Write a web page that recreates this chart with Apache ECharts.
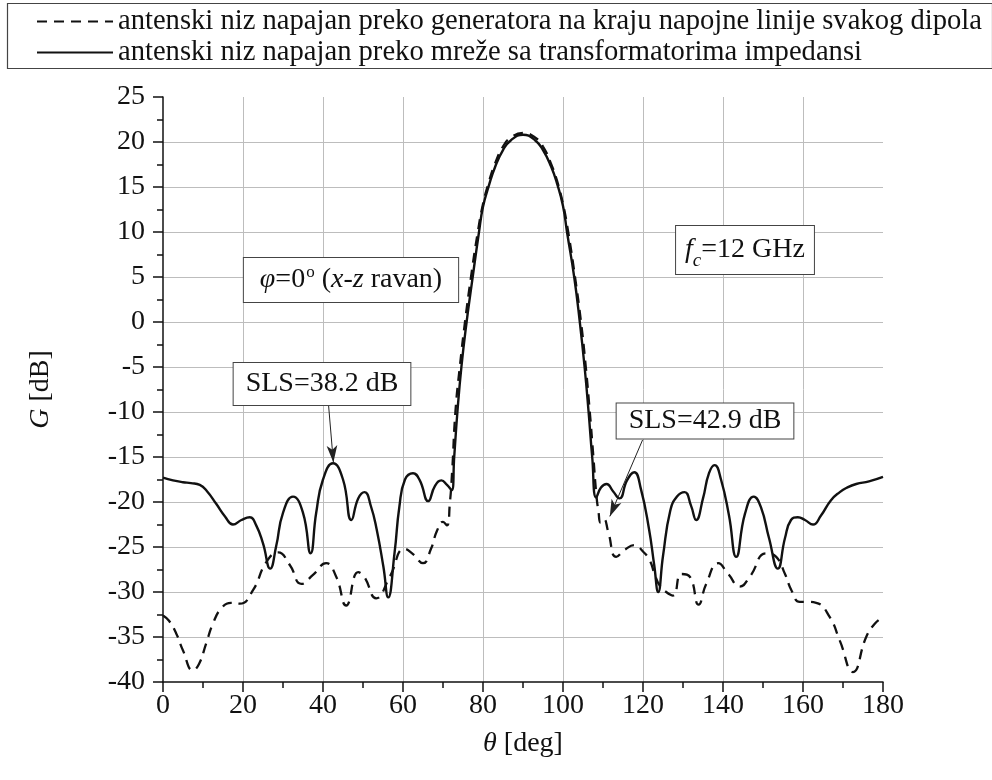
<!DOCTYPE html>
<html>
<head>
<meta charset="utf-8">
<script src="https://cdn.jsdelivr.net/npm/echarts@6/dist/echarts.min.js"></script>
<style>
html,body{margin:0;padding:0;background:#fff;}
#chart{width:992px;height:780px;}
</style>
</head>
<body>
<div id="chart"></div>
<script>
// ---- data ----
const seriesNames = [
  'antenski niz napajan preko generatora na kraju napojne linije svakog dipola',
  'antenski niz napajan preko mreže sa transformatorima impedansi'
];
const xTicks = [0, 20, 40, 60, 80, 100, 120, 140, 160, 180];
const yTicks = [-40, -35, -30, -25, -20, -15, -10, -5, 0, 5, 10, 15, 20, 25];

const thetaDashed = [0, 1.5, 3.3, 5, 7.5, 9, 10.8, 12.5, 14.6, 17, 19.2, 22.5, 25.8, 28.8, 31.7, 34.6, 37.5, 40.8, 43.3, 45.8, 48.8, 50.3, 53.3, 56.7, 60.4, 62.5, 65, 67, 68.5, 70, 71, 71.7, 72.3, 73.1, 74.2, 75.5, 77, 78.7, 80, 81.5, 83, 85, 87, 90, 93, 95, 97, 98.5, 100, 101.3, 103, 104.5, 105.7, 106.7, 107.6, 108.3, 108.9, 109.4, 110.2, 111.3, 113.3, 115.5, 117.9, 120, 121.7, 122.9, 124.2, 125.8, 127.5, 129.6, 131.7, 133.9, 135.8, 138.8, 141.3, 144.2, 146.7, 150.8, 153.3, 155.5, 157.1, 159.2, 161, 163.3, 166.7, 169.2, 172.5, 175.8, 178, 180];
const gainDashed = [-32.6, -33.2, -34.6, -36.5, -38.7, -38.0, -35.7, -33.5, -31.8, -31.2, -31.3, -29.8, -26.7, -25.6, -27.0, -29.1, -28.1, -26.8, -28.3, -31.5, -27.8, -28.3, -30.7, -28.3, -25.2, -25.8, -26.8, -25.2, -23.2, -22.2, -22.6, -20.2, -16.5, -10, -5, 0, 5, 10, 13.1, 15.6, 17.6, 19.5, 20.5, 21.0, 20.5, 19.5, 17.6, 15.7, 13.1, 10, 5, 0, -5, -10, -15, -19, -21.2, -22.3, -21.9, -23.3, -26.1, -25.3, -24.8, -25.5, -26.5, -28.0, -29.3, -30.0, -30.4, -28.0, -28.3, -31.4, -29.1, -26.8, -28.0, -29.4, -28.3, -25.7, -26.1, -28.0, -29.8, -31.1, -31.1, -31.2, -32.8, -35.4, -38.9, -35.0, -33.5, -32.8];

const thetaSolid = [0, 2.5, 5, 7, 9.2, 11, 13.3, 15.5, 17.5, 19.6, 21.7, 23.3, 25, 26.8, 28.3, 30, 32.5, 35, 36.9, 38.3, 40, 42.5, 45, 47.1, 48.8, 50.4, 52, 53.4, 55.1, 56.3, 57.9, 59.1, 60.5, 62.5, 64.2, 66.3, 68, 69.6, 71, 72.2, 72.8, 73.6, 74.6, 75.9, 77.3, 79, 80, 81.5, 83, 85, 87, 90, 93, 95, 97, 98.5, 100, 101, 102.8, 104.2, 105.4, 106.4, 107.3, 108.3, 109.5, 110.9, 112.5, 114.1, 116, 117.8, 119.5, 121.5, 122.8, 123.8, 125, 126.8, 128.5, 130.4, 132, 133.3, 135, 136.5, 137.9, 139.5, 141.5, 143.3, 145.5, 147.7, 149.5, 151.5, 153.7, 155.5, 157, 158.7, 160.5, 162.5, 164.5, 167, 169.2, 171, 173.3, 176.5, 180];
const gainSolid = [-17.3, -17.6, -17.8, -17.9, -18.1, -18.8, -20.2, -21.6, -22.5, -22.0, -21.7, -22.6, -24.6, -27.4, -24.9, -21.2, -19.4, -21.2, -25.7, -21.2, -17.5, -15.7, -17.5, -22.0, -19.6, -18.9, -20.5, -23.0, -27.2, -30.6, -25.6, -20.5, -17.5, -16.8, -17.6, -19.9, -18.2, -17.6, -18.1, -18.7, -15.0, -10.0, -5.0, 0, 4.6, 10, 12.8, 15.2, 17.2, 19.1, 20.2, 20.8, 20.2, 19.1, 17.3, 15.4, 12.9, 10.0, 5.0, 0, -5.0, -10.0, -15.0, -19.5, -18.4, -18.0, -18.8, -19.6, -17.6, -16.7, -18.6, -23.0, -27.0, -30.0, -26.0, -21.0, -19.4, -18.9, -20.4, -22.0, -19.6, -16.8, -15.9, -17.5, -21.5, -26.1, -21.3, -19.4, -20.6, -24.0, -27.4, -24.0, -22.0, -21.7, -22.0, -22.5, -21.5, -19.8, -18.9, -18.4, -18.0, -17.7, -17.2];

// annotation arrows: [start, tip] in data coordinates
const arrowLeft = [[41.4, -9.3], [42.6, -15.6]];
const arrowRight = [[119.9, -13.1], [111.7, -21.6]];

// ---- chart ----
const FONT = '"Liberation Serif", "Times New Roman", serif';
const zip = (a, b) => a.map((v, i) => [v, b[i]]);

const chart = echarts.init(document.getElementById('chart'), null, {renderer: 'canvas'});

const boxText = {
  fontFamily: FONT, fontSize: 28, fill: '#111',
  backgroundColor: '#fff', borderColor: '#444', borderWidth: 1,
  align: 'center', verticalAlign: 'middle'
};

const arrowEnd = (c) => ({coord: c, symbol: 'arrow', symbolSize: [8, 17]});
const arrowStart = (c) => ({coord: c, symbol: 'none'});

const option = {
  backgroundColor: '#fff',
  animation: false,
  grid: {left: 163, right: 109, top: 97, bottom: 98, containLabel: false},
  legend: {
    orient: 'vertical', left: 36, top: 7, padding: 0, itemGap: 2,
    itemWidth: 76, itemHeight: 14,
    itemStyle: {opacity: 0, borderWidth: 0},
    textStyle: {fontFamily: FONT, fontSize: 28.6, color: '#111', lineHeight: 28},
    data: seriesNames
  },
  xAxis: {
    type: 'value', min: 0, max: 180, interval: 20,
    name: '{i|θ} [deg]', nameLocation: 'middle', nameGap: 48,
    nameTextStyle: {fontFamily: FONT, fontSize: 28, color: '#111',
      rich: {i: {fontFamily: FONT, fontSize: 28, fontStyle: 'italic', color: '#111'}}},
    axisLine: {onZero: false, lineStyle: {color: '#111', width: 1.5}},
    axisTick: {show: true, inside: false, length: 10, lineStyle: {color: '#111', width: 1.5}},
    minorTick: {show: true, splitNumber: 2, length: 6, lineStyle: {color: '#111', width: 1.5}},
    axisLabel: {fontFamily: FONT, fontSize: 28, color: '#111', margin: 10,
      formatter: v => xTicks.includes(v) ? String(v) : ''},
    splitLine: {show: true, showMinLine: false, showMaxLine: false, lineStyle: {color: '#bdbdbd', width: 1}}
  },
  yAxis: {
    type: 'value', min: -40, max: 25, interval: 5,
    name: '{i|G} [dB]', nameLocation: 'middle', nameGap: 108, nameRotate: 90,
    nameTextStyle: {fontFamily: FONT, fontSize: 28, color: '#111',
      rich: {i: {fontFamily: FONT, fontSize: 28, fontStyle: 'italic', color: '#111'}}},
    axisLine: {show: true, onZero: false, lineStyle: {color: '#111', width: 1.5}},
    axisTick: {show: true, inside: false, length: 10, lineStyle: {color: '#111', width: 1.5}},
    minorTick: {show: true, splitNumber: 2, length: 6, lineStyle: {color: '#111', width: 1.5}},
    axisLabel: {fontFamily: FONT, fontSize: 28, color: '#111', margin: 18,
      formatter: v => yTicks.includes(v) ? String(v) : ''},
    splitLine: {show: true, showMinLine: false, showMaxLine: false, lineStyle: {color: '#bdbdbd', width: 1}}
  },
  series: [
    {
      name: seriesNames[0], type: 'line', data: zip(thetaDashed, gainDashed),
      symbol: 'none', smooth: 0.5,
      lineStyle: {color: '#111', width: 2.3, type: [10, 7]},
      itemStyle: {color: '#111'}, z: 2
    },
    {
      name: seriesNames[1], type: 'line', data: zip(thetaSolid, gainSolid),
      symbol: 'none', smooth: 0.5,
      lineStyle: {color: '#111', width: 2.4, type: 'solid'},
      itemStyle: {color: '#111'}, z: 3,
      markLine: {
        silent: true, animation: false,
        label: {show: false},
        lineStyle: {color: '#222', width: 1, type: 'solid'},
        itemStyle: {color: '#222'},
        data: [
          [arrowStart(arrowLeft[0]), arrowEnd(arrowLeft[1])],
          [arrowStart(arrowRight[0]), arrowEnd(arrowRight[1])]
        ]
      }
    }
  ],
  graphic: [
    {type: 'rect', left: 5, top: 1, shape: {width: 985, height: 65},
     style: {fill: 'none', stroke: '#444', lineWidth: 1.2}, z: -1, silent: true},
    {type: 'text', x: 351, y: 280, z: 10,
     style: Object.assign({}, boxText, {
       text: '{i|φ}{n|=0}{s|o}{n| (}{i|x}{n|-}{i|z}{n| ravan)}',
       padding: [6, 16, 6, 16],
       rich: {
         i: {fontFamily: FONT, fontSize: 28, fontStyle: 'italic', lineHeight: 32},
         n: {fontFamily: FONT, fontSize: 28, lineHeight: 32},
         s: {fontFamily: FONT, fontSize: 17, lineHeight: 32, verticalAlign: 'top', padding: [0, 0, 10, 1]}
       }
     })},
    {type: 'text', x: 322, y: 384, z: 10,
     style: Object.assign({}, boxText, {text: 'SLS=38.2 dB', padding: [5, 12, 5, 12], lineHeight: 32})},
    {type: 'text', x: 705, y: 421, z: 10,
     style: Object.assign({}, boxText, {text: 'SLS=42.9 dB', padding: [2, 12, 2, 12], lineHeight: 31})},
    {type: 'text', x: 745, y: 250, z: 10,
     style: Object.assign({}, boxText, {
       text: '{i|f}{c|c}{n|=12 GHz}',
       padding: [4, 9, 4, 9],
       rich: {
         i: {fontFamily: FONT, fontSize: 28, fontStyle: 'italic', lineHeight: 40},
         c: {fontFamily: FONT, fontSize: 19, fontStyle: 'italic', lineHeight: 40, verticalAlign: 'bottom', padding: [10, 0, 0, 0]},
         n: {fontFamily: FONT, fontSize: 28, lineHeight: 40}
       }
     })}
  ]
};
chart.setOption(option);
</script>
</body>
</html>
